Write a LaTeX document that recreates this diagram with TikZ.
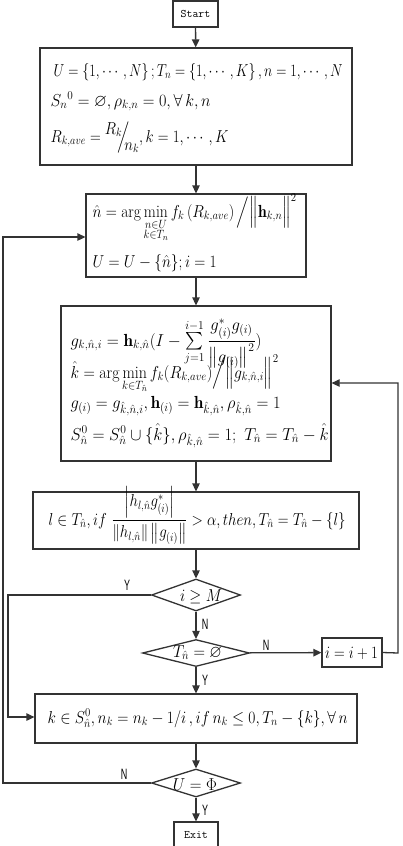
\documentclass[tikz,border=0pt]{standalone}
\usepackage{amsmath,amssymb,graphicx}
\usepackage{fontspec}
\newfontfamily\lblfont{Liberation Sans}
\usetikzlibrary{shapes.geometric,arrows.meta}
\newcommand{\fitw}[2]{\resizebox{#1}{\height}{#2}}
\begin{document}
\begin{tikzpicture}[x=1pt,y=-1pt,
  line width=1.3pt, draw=black!80,
  arr/.style={-{Triangle[length=8pt,width=7.5pt]}},
  box/.style={draw,rectangle,inner sep=0pt,line width=1.3pt},
  dia/.style={draw,diamond,inner sep=0pt,line width=1.3pt},
  term/.style={draw,rectangle,inner sep=0pt,font=\ttfamily\fontsize{11.5}{13}\selectfont},
  lbl/.style={font=\lblfont\fontsize{15}{16}\selectfont,inner sep=0pt},
  ln/.style={anchor=base west,inner sep=0pt,font=\fontsize{17.5}{20}\selectfont},
  ct/.style={anchor=base,inner sep=0pt,font=\fontsize{17.5}{20}\selectfont}]
\useasboundingbox (0,0) rectangle (402,846);
\fill[white] (0,0) rectangle (402,846);

% boxes
\node[term,minimum width=45pt,minimum height=26pt] (start) at (195.5,14) {Start};
\node[box,minimum width=312pt,minimum height=117pt] (b1) at (196,106.5) {};
\node[box,minimum width=220pt,minimum height=83pt] (b2) at (196,235.5) {};
\node[box,minimum width=270pt,minimum height=155pt] (b3) at (196,383.5) {};
\node[box,minimum width=326pt,minimum height=57pt] (b4) at (196,520.5) {};
\node[dia,minimum width=89pt,minimum height=32pt] (d1) at (196,595) {};
\node[dia,minimum width=107pt,minimum height=27pt] (d2) at (196,653) {};
\node[box,minimum width=60pt,minimum height=29pt] (inc) at (352,652.5) {};
\node[box,minimum width=322pt,minimum height=49pt] (b5) at (196,718.5) {};
\node[dia,minimum width=89pt,minimum height=28pt] (d3) at (196,783) {};
\node[term,minimum width=44pt,minimum height=30pt] (exit) at (196,837) {\raisebox{4pt}{Exit}};

% texts of box 1
\node[ln] (t11) at (53,76) {\fitw{289pt}{$U=\left\{1,\cdots,N\right\};T_n=\left\{1,\cdots,K\right\},n=1,\cdots,N$}};
\node[ln] (t12) at (50,106) {\fitw{160pt}{$S_n{}^{0}=\varnothing,\rho_{k,n}=0,\forall\, k,n$}};
\node[ln] (t13) at (50,142) {\fitw{178pt}{$R_{k,ave}=\raisebox{8pt}{$R_k$}\!\!\Big/\!\!\raisebox{-8pt}{$n_k$},k=1,\cdots,K$}};

% texts of box 2
\node[ln] (t21) at (92,217) {\fitw{204pt}{$\hat n=\arg\min\limits_{\substack{n\in U\\ k\in T_n}} f_k\left(R_{k,ave}\right)\Big/\Big\|\mathbf{h}_{k,n}\Big\|^2$}};
\node[ln] (t22) at (92,267) {\fitw{124pt}{$U=U-\{\hat n\};i=1$}};

% texts of box 3
\node[ln] (t31) at (70,346) {\fitw{191pt}{$g_{k,\hat n,i}=\mathbf{h}_{k,\hat n}(I-\sum\limits_{j=1}^{i-1}\dfrac{g^*_{(i)}g_{(i)}}{\left\|g_{(i)}\right\|^2})$}};
\node[ln] (t32) at (70,378) {\fitw{208pt}{$\hat k=\arg\min\limits_{k\in T_{\hat n}} f_k(R_{k,ave})\Big/\Big\|g_{k,\hat n,i}\Big\|^2$}};
\node[ln] (t33) at (70,408) {\fitw{210pt}{$g_{(i)}=g_{\hat k,\hat n,i},\mathbf{h}_{(i)}=\mathbf{h}_{\hat k,\hat n},\rho_{\hat k,\hat n}=1$}};
\node[ln] (t34) at (70,440) {\fitw{258pt}{$S^0_{\hat n}=S^0_{\hat n}\cup\{\hat k\},\rho_{\hat k,\hat n}=1;\ T_{\hat n}=T_{\hat n}-\hat k$}};

% text of box 4
\node[ln] (t41) at (48,525) {\fitw{297pt}{$l\in T_{\hat n},if\ \dfrac{\left|h_{l,\hat n}g^*_{(i)}\right|}{\left\|h_{l,\hat n}\right\|\left\|g_{(i)}\right\|}>\alpha,then,T_{\hat n}=T_{\hat n}-\{l\}$}};

% text of box 5
\node[ln] (t51) at (47,723) {\fitw{300pt}{$k\in S^0_{\hat n},n_k=n_k-1/i\,,if\,n_k\le 0,T_n-\{k\},\forall\, n$}};

% decision texts
\node[ct] (td1) at (201,601) {\fitw{42pt}{$i\ge M$}};
\node[ct] (td2) at (197.5,657) {\fitw{49pt}{$T_{\hat n}=\varnothing$}};
\node[ct] (tinc) at (351.5,658) {\fitw{53pt}{$i=i+1$}};
\node[ct] (td3) at (195,790) {\fitw{44pt}{$U=\Phi$}};

% connector points
\coordinate (lt) at (3,783);
\coordinate (lb) at (3,237);
\coordinate (yt) at (8,595);
\coordinate (yb) at (8,717);
\coordinate (rt) at (398,653);
\coordinate (rb) at (398,383);

\draw[arr] (start) -- (b1);
\draw[arr] (b1) -- (b2);
\draw[arr] (b2) -- (b3);
\draw[arr] (b3) -- (b4);
\draw[arr] (b4) -- (d1);
\draw[arr] (d1) -- (d2);
\draw[arr] (d2) -- (b5);
\draw[arr] (b5) -- (d3);
\draw[arr] (d3) -- (exit);
\draw[arr] (d2) -- (inc);
\draw[arr] (d3.west) -- (lt) -- (lb) -- (b2.west |- lb);
\draw[arr] (d1.west) -- (yt) -- (yb) -- (b5.west |- yb);
\draw[arr] (inc.east) -- (rt) -- (rb) -- (b3.east |- rb);

\node[lbl] (ly1) at (127,585) {\scalebox{0.6}[1]{Y}};
\node[lbl] (ln1) at (205,624) {\scalebox{0.6}[1]{N}};
\node[lbl] (ln2) at (266,645) {\scalebox{0.6}[1]{N}};
\node[lbl] (ly2) at (205,680) {\scalebox{0.6}[1]{Y}};
\node[lbl] (ln3) at (124,774) {\scalebox{0.6}[1]{N}};
\node[lbl] (ly3) at (205,810) {\scalebox{0.6}[1]{Y}};
\end{tikzpicture}
\end{document}
